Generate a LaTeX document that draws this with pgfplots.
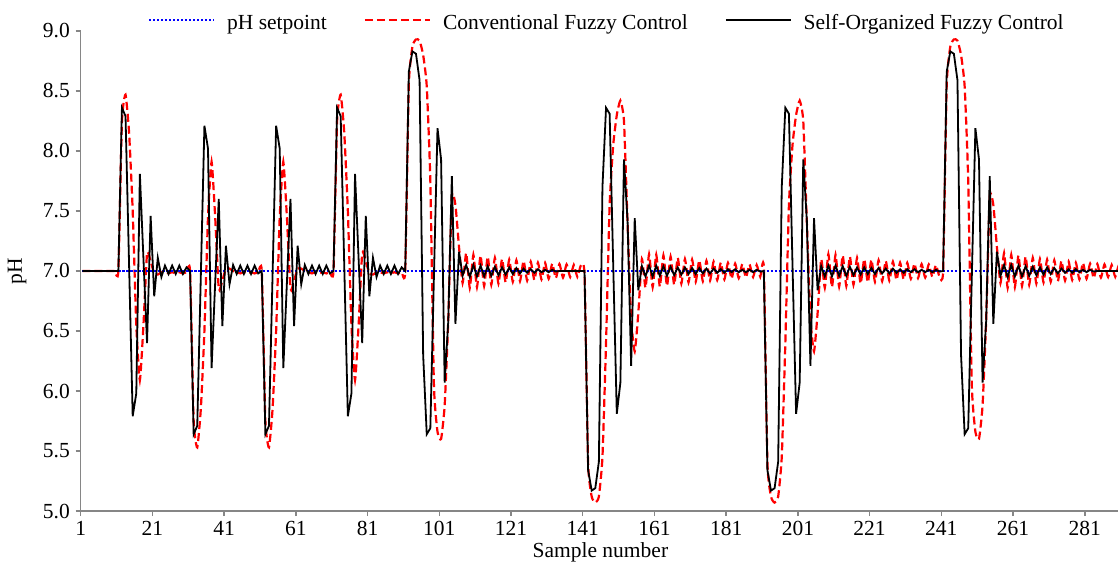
\documentclass[border=0pt]{standalone}
\usepackage{fontspec}
\setmainfont{Liberation Serif}
\usepackage{pgfplots}
\pgfplotsset{compat=1.18}
\definecolor{axgray}{RGB}{134,134,134}
\newcommand{\fs}{\fontsize{21.5pt}{25pt}\selectfont}
\tikzset{
 setp/.style={color=blue, line width=1.9pt, dash pattern=on 2.4pt off 1.6pt},
 conv/.style={red, line width=2.2pt, dash pattern=on 8pt off 4pt},
 sofc/.style={black, line width=1.8pt}
}
\begin{document}
\begin{tikzpicture}
\begin{axis}[
 name=ax,
 at={(0pt,0pt)}, anchor=south west,
 scale only axis, width=1037.3pt, height=480pt,
 xmin=0.5, xmax=289.77, ymin=5, ymax=9,
 axis lines=left,
 axis line style={-, draw=axgray, line width=1.5pt},
 xtick={0.5,20.5,...,280.5},
 xticklabels={1,21,41,61,81,101,121,141,161,181,201,221,241,261,281},
 ytick={5,5.5,...,9},
 tick align=outside,
 major tick length=5pt,
 tick style={draw=axgray, line width=1.5pt},
 /pgf/number format/assume math mode=true,
 tick label style={font=\fs},
 yticklabel style={/pgf/number format/fixed, /pgf/number format/fixed zerofill, /pgf/number format/precision=1, inner sep=0pt, anchor=east, xshift=-5.7pt},
 xticklabel style={inner sep=0pt, anchor=base, yshift=-19pt},
 xlabel={Sample number},
 ylabel={pH},
 every axis x label/.style={at={(axis description cs:0.501,-0.0965)}, anchor=base, inner sep=0pt, font=\fs},
 every axis y label/.style={at={(axis description cs:-0.0614,0.5)}, anchor=center, rotate=90, inner sep=0pt, font=\fs},
 legend columns=3,
 legend image code/.code={\draw[#1] (0pt,10pt) -- (65pt,10pt);},
 legend style={at={(axis description cs:0.0649,0.9996)}, anchor=south west, draw=none, fill=none, inner sep=0pt, outer sep=0pt, font=\fs, cells={anchor=base west}, nodes={inner sep=0pt}, /tikz/every odd column/.append style={column sep=12pt}, /tikz/every even column/.append style={column sep=37pt}},
]
\addlegendimage{setp, line width=2.1pt}
\addlegendentry{pH setpoint}
\addlegendimage{conv}
\addlegendentry{Conventional Fuzzy Control}
\addplot[conv, smooth, tension=0.3, forget plot] coordinates {
(1,7) (2,7) (3,7) (4,7) (5,7) (6,7) (7,7) (8,7) (9,7) (10,7) (11,7)
(12,8.25) (13,8.47) (14,8.15) (15,7.5) (16,6.55) (17,6.09) (18,6.55) (19,7.15) (20,7.08) (21,6.98) (22,6.97) (23,6.99) (24,6.99) (25,6.98) (26,6.99) (27,6.98) (28,6.99) (29,6.98) (30,6.99) (31,7.0)
(32,5.75) (33,5.53) (34,5.85) (35,6.5) (36,7.45) (37,7.91) (38,7.45) (39,6.85) (40,6.92) (41,7.02) (42,7.02) (43,7.0) (44,6.99) (45,6.98) (46,6.99) (47,6.98) (48,6.99) (49,6.98) (50,6.99) (51,7.0)
(52,5.75) (53,5.53) (54,5.85) (55,6.5) (56,7.45) (57,7.91) (58,7.45) (59,6.85) (60,6.92) (61,7.02) (62,7.02) (63,7.0) (64,6.99) (65,6.98) (66,6.99) (67,6.98) (68,6.99) (69,6.98) (70,6.99) (71,7.0)
(72,8.25) (73,8.47) (74,8.15) (75,7.5) (76,6.55) (77,6.09) (78,6.55) (79,7.15) (80,7.08) (81,6.98) (82,6.97) (83,6.99) (84,6.99) (85,6.98) (86,6.99) (87,6.98) (88,6.99) (89,6.98) (90,6.99) (91,7.0)
(92,8.55) (93,8.87) (94,8.93) (95,8.92) (96,8.8) (97,8.54) (98,7.75) (99,6.05) (100,5.66) (101,5.6) (102,5.88) (103,6.59) (104,7.62) (105,7.55) (106,7.2) (107,6.9)
(108,7.15) (109,6.86) (110,7.135) (111,6.865) (112,7.13) (113,6.875) (114,7.12) (115,6.885) (116,7.11) (117,6.895) (118,7.1) (119,6.905) (120,7.095) (121,6.91) (122,7.09) (123,6.915) (124,7.085) (125,6.92) (126,7.078) (127,6.925) (128,7.07) (129,6.93) (130,7.068) (131,6.935) (132,7.062) (133,6.94) (134,7.058) (135,6.945) (136,7.055) (137,6.95) (138,7.05) (139,6.952) (140,7.048) (141,6.97)
(142,5.4) (143,5.12) (144,5.07) (145,5.12) (146,5.45) (147,6.4) (148,7.55) (149,8.05) (150,8.3) (151,8.42) (152,8.25) (153,7.4) (154,6.6) (155,6.33) (156,6.65) (157,7.1)
(158,6.86) (159,7.14) (160,6.865) (161,7.135) (162,6.87) (163,7.13) (164,6.875) (165,7.12) (166,6.885) (167,7.11) (168,6.895) (169,7.1) (170,6.905) (171,7.095) (172,6.91) (173,7.09) (174,6.915) (175,7.085) (176,6.92) (177,7.078) (178,6.925) (179,7.07) (180,6.93) (181,7.068) (182,6.935) (183,7.062) (184,6.94) (185,7.058) (186,6.945) (187,7.055) (188,6.95) (189,7.05) (190,6.952) (191,7.03)
(192,5.4) (193,5.12) (194,5.07) (195,5.12) (196,5.45) (197,6.4) (198,7.55) (199,8.05) (200,8.3) (201,8.42) (202,8.25) (203,7.4) (204,6.6) (205,6.33) (206,6.65) (207,7.1)
(208,6.86) (209,7.14) (210,6.865) (211,7.135) (212,6.87) (213,7.13) (214,6.875) (215,7.12) (216,6.885) (217,7.11) (218,6.895) (219,7.1) (220,6.905) (221,7.095) (222,6.91) (223,7.09) (224,6.915) (225,7.085) (226,6.92) (227,7.078) (228,6.925) (229,7.07) (230,6.93) (231,7.068) (232,6.935) (233,7.062) (234,6.94) (235,7.058) (236,6.945) (237,7.055) (238,6.95) (239,7.05) (240,6.952) (241,7.0)
(242,8.55) (243,8.87) (244,8.93) (245,8.92) (246,8.8) (247,8.54) (248,7.75) (249,6.05) (250,5.66) (251,5.6) (252,5.88) (253,6.59) (254,7.62) (255,7.55) (256,7.2) (257,6.9)
(258,7.15) (259,6.86) (260,7.135) (261,6.865) (262,7.13) (263,6.875) (264,7.12) (265,6.885) (266,7.11) (267,6.895) (268,7.1) (269,6.905) (270,7.095) (271,6.91) (272,7.09) (273,6.915) (274,7.085) (275,6.92) (276,7.078) (277,6.925) (278,7.07) (279,6.93) (280,7.068) (281,6.935) (282,7.062) (283,6.94) (284,7.058) (285,6.945) (286,7.055) (287,6.95) (288,7.05) (289,6.952) (290,7.048) (291,6.955)
};
\addplot[setp, forget plot] coordinates {(1,7) (41,7) (81,7) (121,7) (161,7) (201,7) (241,7) (291,7)};
\addplot[sofc] coordinates {
(1,7) (11,7)
(12,8.36) (13,8.29) (14,7.04) (15,5.79) (16,5.98) (17,7.81) (18,7.10) (19,6.40) (20,7.46) (21,6.79) (22,7.11) (23,6.95)
(24,7.045) (25,6.975) (26,7.045) (27,6.975) (28,7.045) (29,6.975) (30,7.03) (31,7.0)
(32,5.64) (33,5.71) (34,6.96) (35,8.21) (36,8.02) (37,6.19) (38,6.90) (39,7.60) (40,6.54) (41,7.21) (42,6.89) (43,7.05)
(44,6.975) (45,7.045) (46,6.975) (47,7.045) (48,6.975) (49,7.045) (50,6.98) (51,7.0)
(52,5.64) (53,5.71) (54,6.96) (55,8.21) (56,8.02) (57,6.19) (58,6.90) (59,7.60) (60,6.54) (61,7.21) (62,6.89) (63,7.05)
(64,6.975) (65,7.045) (66,6.975) (67,7.045) (68,6.975) (69,7.045) (70,6.98) (71,7.0)
(72,8.36) (73,8.29) (74,7.04) (75,5.79) (76,5.98) (77,7.81) (78,7.10) (79,6.40) (80,7.46) (81,6.79) (82,7.11) (83,6.95)
(84,7.045) (85,6.975) (86,7.045) (87,6.975) (88,7.045) (89,6.975) (90,7.03) (91,7.0)
(92,8.66) (93,8.83) (94,8.81) (95,8.59) (96,6.30) (97,5.64) (98,5.69) (99,6.95) (100,8.19) (101,7.93) (102,6.07) (103,6.58) (104,7.79) (105,6.56) (106,7.16) (107,6.96)
(108,7.05) (109,6.95) (110,7.05) (111,6.955) (112,7.045) (113,6.955) (114,7.04) (115,6.96) (116,7.035) (117,6.965) (118,7.03) (119,6.97) (120,7.03) (121,6.975) (122,7.025) (123,6.98) (124,7.02) (125,6.985) (126,7.015) (127,6.985) (128,7.015) (129,6.99) (130,7.01) (131,6.99) (132,7.01) (133,6.995) (134,7.0) (141,7.0)
(142,5.34) (143,5.17) (144,5.19) (145,5.41) (146,7.70) (147,8.36) (148,8.31) (149,7.05) (150,5.81) (151,6.07) (152,7.93) (153,7.42) (154,6.21) (155,7.44) (156,6.84) (157,7.04)
(158,6.955) (159,7.045) (160,6.955) (161,7.045) (162,6.96) (163,7.04) (164,6.96) (165,7.035) (166,6.965) (167,7.03) (168,6.97) (169,7.03) (170,6.975) (171,7.025) (172,6.975) (173,7.025) (174,6.98) (175,7.02) (176,6.98) (177,7.02) (178,6.985) (179,7.015) (180,6.985) (181,7.015) (182,6.99) (183,7.015) (184,6.99) (185,7.01) (186,6.99) (187,7.01) (188,6.99) (189,7.01) (190,6.995) (191,7.0)
(192,5.34) (193,5.17) (194,5.19) (195,5.41) (196,7.70) (197,8.36) (198,8.31) (199,7.05) (200,5.81) (201,6.07) (202,7.93) (203,7.42) (204,6.21) (205,7.44) (206,6.84) (207,7.04)
(208,6.955) (209,7.045) (210,6.955) (211,7.045) (212,6.96) (213,7.04) (214,6.96) (215,7.035) (216,6.965) (217,7.03) (218,6.97) (219,7.03) (220,6.975) (221,7.025) (222,6.975) (223,7.025) (224,6.98) (225,7.02) (226,6.98) (227,7.02) (228,6.985) (229,7.015) (230,6.985) (231,7.015) (232,6.99) (233,7.015) (234,6.99) (235,7.01) (236,6.99) (237,7.01) (238,6.99) (239,7.01) (240,6.995) (241,7.0)
(242,8.66) (243,8.83) (244,8.81) (245,8.59) (246,6.30) (247,5.64) (248,5.69) (249,6.95) (250,8.19) (251,7.93) (252,6.07) (253,6.58) (254,7.79) (255,6.56) (256,7.16) (257,6.96)
(258,7.05) (259,6.95) (260,7.05) (261,6.955) (262,7.045) (263,6.955) (264,7.04) (265,6.96) (266,7.035) (267,6.965) (268,7.03) (269,6.97) (270,7.03) (271,6.975) (272,7.025) (273,6.98) (274,7.02) (275,6.985) (276,7.015) (277,6.985) (278,7.015) (279,6.99) (280,7.01) (281,6.99) (282,7.01) (283,6.995) (284,7.0) (291,7.0)
};
\addlegendentry{Self-Organized Fuzzy Control}
\end{axis}
\pgfresetboundingbox
\path ([xshift=-80.7pt,yshift=-53pt]ax.south west) rectangle ([yshift=31pt]ax.north east);
\end{tikzpicture}
\end{document}
